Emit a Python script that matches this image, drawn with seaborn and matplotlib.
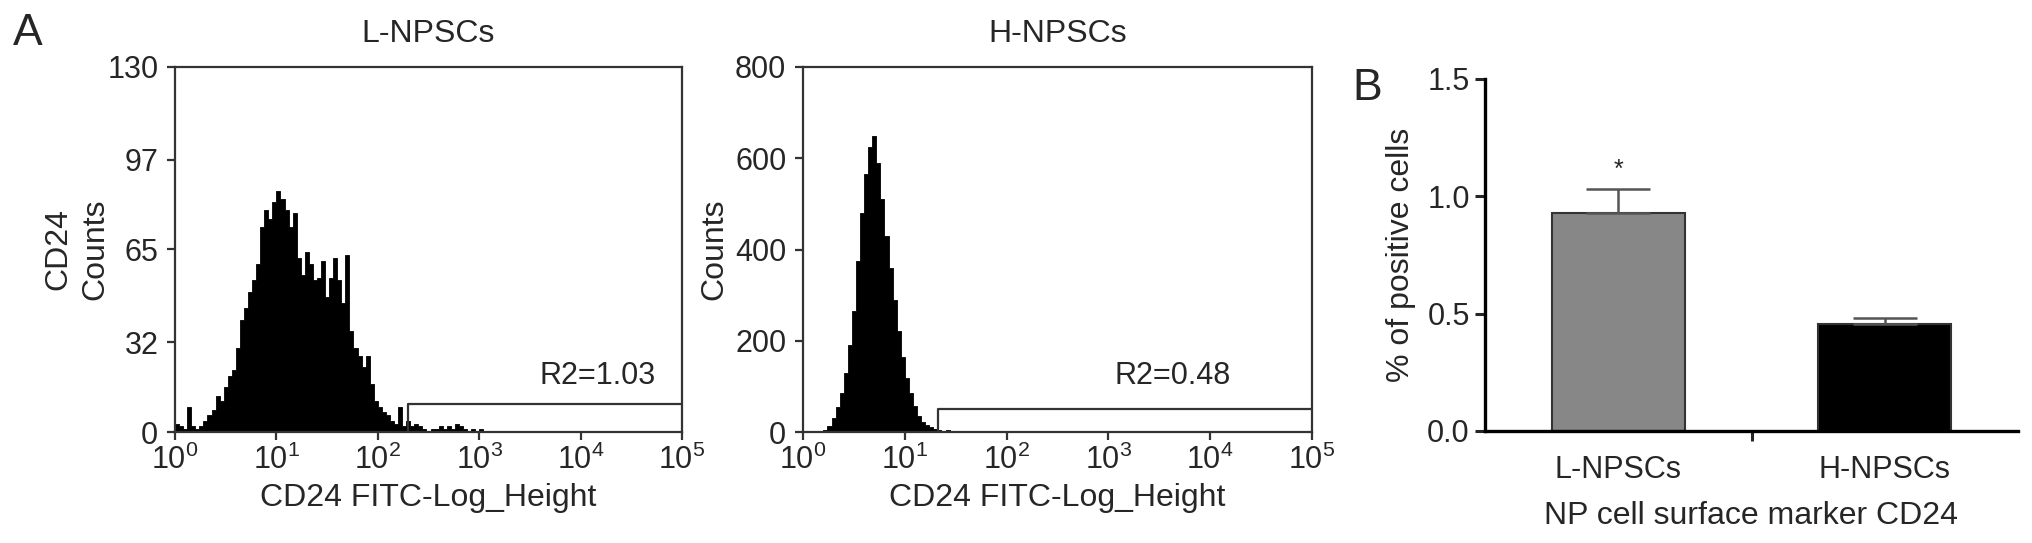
import numpy as np
import pandas as pd
import matplotlib
matplotlib.use("Agg")
import matplotlib.pyplot as plt
from matplotlib.ticker import NullLocator, FixedLocator, FuncFormatter
import seaborn as sns

# flow histograms: counts per log10 bin (bin width 0.04 decades, starting at 10^0)
bin_width = 0.04
l_counts = [3, 2, 1, 9, 2, 1, 2, 4, 6, 8,
            13, 11, 16, 20, 22, 30, 40, 44, 50, 54,
            60, 73, 79, 76, 82, 86, 83, 79, 73, 78,
            62, 56, 64, 60, 54, 55, 61, 48, 55, 62,
            54, 46, 63, 36, 30, 27, 23, 27, 17, 11,
            9, 7, 6, 4, 3, 9, 2, 4, 2, 3,
            2, 1, 0, 1, 1, 2, 1, 2, 1, 3,
            2, 1, 0, 1, 0, 1, 0, 0.5]
h_counts = [0, 0, 0, 0, 2, 5, 14, 30, 55, 85,
            130, 190, 265, 375, 480, 565, 625, 648, 590, 510,
            430, 360, 290, 222, 165, 118, 85, 57, 36, 22,
            15, 10, 6, 5, 3, 4, 2, 3, 1, 2,
            1, 2, 0]

l_yticks = [0, 32, 65, 97, 130]
h_yticks = [0, 200, 400, 600, 800]
decades = [1, 10, 100, 1000, 10000, 100000]

# R2 gates: (left edge, height), label
l_gate = (200, 10)
h_gate = (21, 50)
l_r2 = "R2=1.03"
h_r2 = "R2=0.48"

# panel B
groups = ["L-NPSCs", "H-NPSCs"]
pos_means = [0.93, 0.455]
pos_sem = [0.10, 0.025]
bar_colors = ["#878787", "#000000"]

sns.set_style("ticks")
plt.rcParams['font.family'] = ['Liberation Sans', 'DejaVu Sans']
plt.rcParams['mathtext.fontset'] = 'custom'
plt.rcParams['mathtext.rm'] = 'Liberation Sans'
plt.rcParams['mathtext.it'] = 'Liberation Sans'
plt.rcParams['mathtext.default'] = 'regular'

FS = 23
TS = 22
W, H = 2032, 543
fig = plt.figure(figsize=(W / 100, H / 100), dpi=100)


def box(l, r, t, b):
    return [l / W, 1 - b / H, (r - l) / W, (b - t) / H]


def flow_hist(ax, counts, yticks, gate, r2, r2_pos, title, ylabel, ylab_x):
    centers = 10 ** (bin_width / 2 + bin_width * np.arange(len(counts)))
    df = pd.DataFrame({"x": centers, "w": counts})
    sns.histplot(data=df, x="x", weights="w", binwidth=bin_width, binrange=(0, 5),
                 log_scale=True, element="step", fill=True, color="black",
                 alpha=1, linewidth=0.6, ax=ax)
    ax.set_xlim(decades[0], decades[-1])
    ax.set_ylim(yticks[0], yticks[-1])
    ax.xaxis.set_major_locator(FixedLocator(decades))
    ax.xaxis.set_minor_locator(NullLocator())
    ax.xaxis.set_major_formatter(FuncFormatter(lambda v, p: r"$10^{%d}$" % round(np.log10(v))))
    ax.set_yticks(yticks)
    for s in ax.spines.values():
        s.set_color("#333333")
        s.set_linewidth(1.6)
    ax.tick_params(axis="both", length=6, width=1.6, color="#333333", labelsize=TS)
    ax.tick_params(axis="y", pad=6)
    ax.tick_params(axis="x", pad=3)
    ax.plot([gate[0], gate[0], decades[-1]], [0, gate[1], gate[1]], color="#333333", lw=1.6)
    ax.text(r2_pos[0], r2_pos[1], r2, ha="center", va="baseline", fontsize=TS)
    ax.set_title(title, fontsize=FS, pad=18)
    ax.set_xlabel("CD24 FITC-Log_Height", fontsize=FS)
    ax.xaxis.set_label_coords(0.5, -0.14)
    ax.set_ylabel(ylabel, fontsize=FS, linespacing=1.3)
    ax.yaxis.set_label_coords(ylab_x, 0.5)


ax1 = fig.add_axes(box(175, 682, 67, 432))
flow_hist(ax1, l_counts, l_yticks, l_gate, l_r2, (10 ** 4.17, 17), "L-NPSCs", "CD24\nCounts", -0.128)
ax2 = fig.add_axes(box(803, 1312, 67, 432))
flow_hist(ax2, h_counts, h_yticks, h_gate, h_r2, (10 ** 3.63, 105), "H-NPSCs", "Counts", -0.145)

# bar chart
axb = fig.add_axes(box(1485, 2018, 79, 431))
df_b = pd.DataFrame({"group": groups, "value": pos_means})
sns.barplot(data=df_b, x="group", y="value", hue="group", palette=bar_colors,
            width=0.5, edgecolor="#333333", linewidth=1.5, legend=False, ax=axb)
xpos = np.arange(len(groups))
axb.errorbar(xpos, pos_means, yerr=[np.zeros(len(groups)), pos_sem], fmt="none",
             ecolor="#555555", elinewidth=1.8, capsize=23, capthick=1.8)
axb.text(xpos[0], pos_means[0] + pos_sem[0] + 0.03, "*", ha="center", va="bottom", fontsize=TS - 4)
axb.set_xlim(-0.5, 1.5)
axb.set_ylim(0, 1.5)
axb.set_yticks([0, 0.5, 1.0, 1.5])
axb.yaxis.set_major_formatter(FuncFormatter(lambda v, p: "%.1f" % v))
axb.xaxis.set_minor_locator(FixedLocator([0.5]))
sns.despine(ax=axb)
for s in ["left", "bottom"]:
    axb.spines[s].set_linewidth(2.4)
    axb.spines[s].set_color("black")
axb.tick_params(axis="y", length=7, width=2.2, labelsize=TS, pad=4)
axb.tick_params(axis="x", which="major", length=0, labelsize=TS, pad=17)
axb.tick_params(axis="x", which="minor", length=7, width=2.2)
axb.set_xlabel("NP cell surface marker CD24", fontsize=FS)
axb.xaxis.set_label_coords(0.5, -0.2)
axb.set_ylabel("% of positive cells", fontsize=FS)
axb.yaxis.set_label_coords(-0.13, 0.5)

fig.text(13 / W, 1 - 13 / H, "A", fontsize=32, ha="left", va="top")
fig.text(1352 / W, 1 - 68 / H, "B", fontsize=32, ha="left", va="top")

fig.savefig("out.png", dpi=100, facecolor="white")
